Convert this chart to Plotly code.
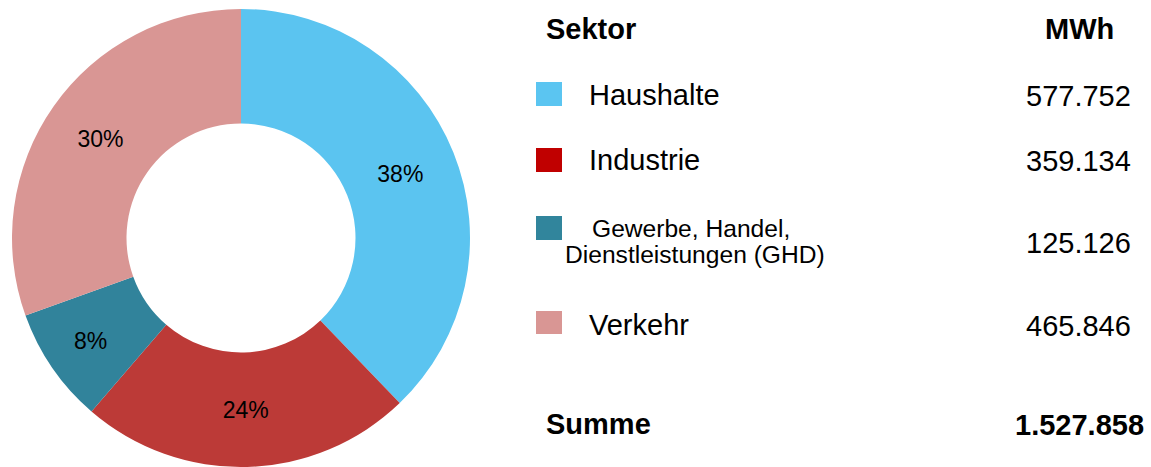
import plotly.graph_objects as go

# ---- data ----
sectors = ["Haushalte", "Industrie", "Gewerbe, Handel,\nDienstleistungen (GHD)", "Verkehr"]
mwh = [577752, 359134, 125126, 465846]
slice_colors = ["#5BC4F0", "#BC3A37", "#31839B", "#D99694"]
legend_colors = ["#5BC5F1", "#C00000", "#31859C", "#D99694"]
header_left = "Sektor"
header_right = "MWh"
sum_label = "Summe"

W, H = 1151, 467


def de_num(v):
    return f"{v:,}".replace(",", ".")


def px(x):
    return x / W


def py(y):
    return 1 - y / H


fig = go.Figure()
fig.add_trace(go.Pie(
    labels=[s.replace("\n", " ") for s in sectors],
    values=mwh,
    hole=0.5,
    sort=False,
    direction="clockwise",
    rotation=0,
    marker=dict(colors=slice_colors, line=dict(width=0)),
    texttemplate="%{percent:.0%}",
    textposition="inside",
    insidetextorientation="horizontal",
    insidetextfont=dict(family="Liberation Sans, Arial, sans-serif", size=23, color="black"),
    hoverinfo="skip",
    showlegend=False,
    domain=dict(x=[px(12), px(470)], y=[0, 458 / H]),
))

font_reg = "Liberation Sans, Arial, sans-serif"
anns = []
shapes = []

# headers
anns.append(dict(text=f"<b>{header_left}</b>", x=px(544), y=py(29), xanchor="left", yanchor="middle",
                 font=dict(size=29)))
anns.append(dict(text=f"<b>{header_right}</b>", x=px(1079), y=py(29), xanchor="center", yanchor="middle",
                 font=dict(size=29)))

row_y = [95, 160, 241, 325]
sq_y = [(82, 106), (148, 172), (216, 240), (311, 334)]
for i, (name, val) in enumerate(zip(sectors, mwh)):
    y0, y1 = sq_y[i]
    shapes.append(dict(type="rect", xref="paper", yref="paper", x0=px(536), x1=px(562),
                       y0=py(y1), y1=py(y0), fillcolor=legend_colors[i], line=dict(width=0)))
    lines = name.split("\n")
    if len(lines) == 1:
        anns.append(dict(text=name, x=px(587), y=py(row_y[i]), xanchor="left", yanchor="middle",
                         font=dict(size=29)))
    else:
        anns.append(dict(text=lines[0], x=px(590), y=py(228), xanchor="left", yanchor="middle",
                         font=dict(size=24.6)))
        anns.append(dict(text=lines[1], x=px(563), y=py(254), xanchor="left", yanchor="middle",
                         font=dict(size=24.6)))
    anns.append(dict(text=de_num(val), x=px(1078), y=py(row_y[i] + (1 if i != 2 else 2)),
                     xanchor="center", yanchor="middle", font=dict(size=29)))

anns.append(dict(text=f"<b>{sum_label}</b>", x=px(544), y=py(424), xanchor="left", yanchor="middle",
                 font=dict(size=29)))
anns.append(dict(text=f"<b>{de_num(sum(mwh))}</b>", x=px(1079), y=py(425), xanchor="center",
                 yanchor="middle", font=dict(size=29)))

for a in anns:
    a.update(xref="paper", yref="paper", showarrow=False)
    a["font"].update(family=font_reg, color="black")

fig.update_layout(
    width=W, height=H,
    margin=dict(l=0, r=0, t=0, b=0),
    paper_bgcolor="white",
    plot_bgcolor="white",
    annotations=anns,
    shapes=shapes,
)

fig.write_html("out.html",
               config={"displayModeBar": False},
               post_script="document.body.style.margin='0';document.body.style.overflow='hidden';")
